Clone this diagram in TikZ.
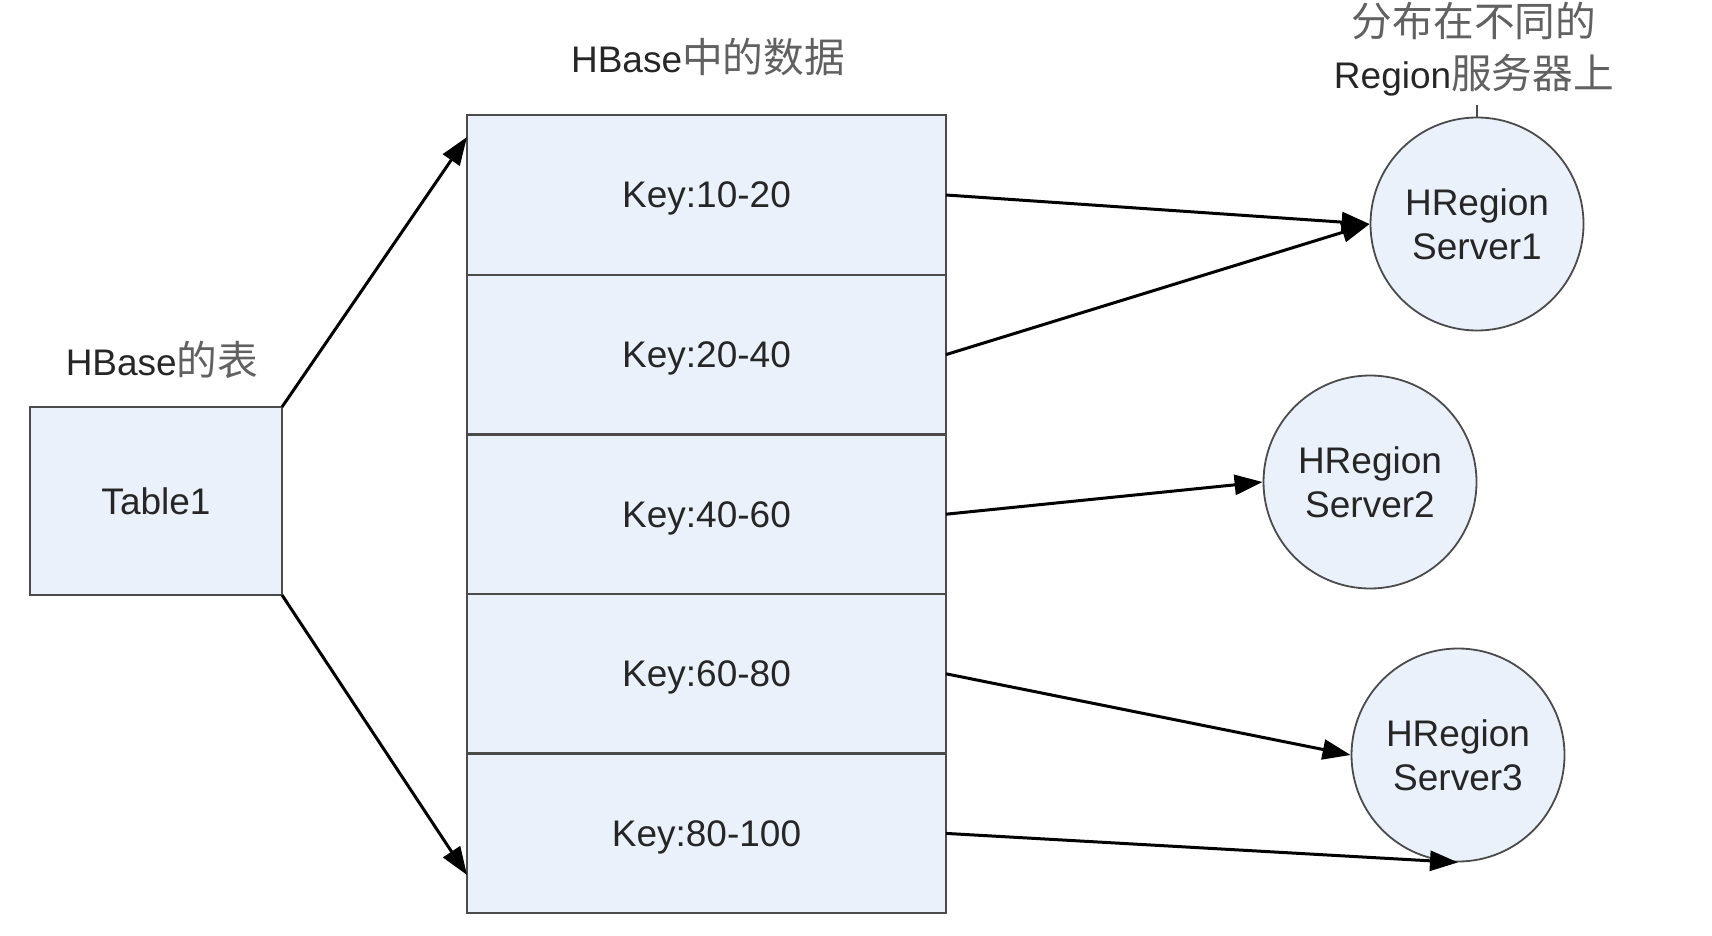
\documentclass[tikz,border=0pt]{standalone}
\usepackage{fontspec}
\setmainfont{Liberation Sans}
\newfontfamily\cjk[Scale=1.1]{Noto Sans CJK SC}
\usetikzlibrary{positioning,arrows.meta}
\definecolor{boxfill}{RGB}{234,241,251}
\definecolor{edgegray}{RGB}{75,75,75}
\newcommand\zh[1]{{\cjk\color{black!62}#1}}

\begin{document}
\begin{tikzpicture}[x=0.5pt,y=-0.5pt,
    font=\fontsize{18.5}{22}\selectfont,text=black!85,
    keybox/.style={draw=edgegray,line width=1.2pt,fill=boxfill,minimum width=239.5pt,
      minimum height=79.8pt,inner sep=0pt,outer sep=0pt,text depth=0pt},
    server/.style={circle,draw=edgegray,line width=0.9pt,fill=boxfill,minimum size=106.5pt,
      inner sep=0pt,align=center},
    arr/.style={-{Triangle[length=14pt,width=10pt]},line width=1.5pt}]
    \useasboundingbox (0,0) rectangle (1712,936);% size of the reference
    % the table
    \node[keybox,minimum width=126pt,minimum height=94pt] (tab) at (156,501) {Table1};
    \node (tabtitle) at (162,360) {HBase\zh{的表}};
    % the key ranges, one row each
    \foreach \lab [count=\i] in {10-20,20-40,40-60,60-80,80-100}{%
      \node[keybox] (k\i) at (706.5,{195+(\i-1)*159.6}) {Key:\lab};}
    \node (datatitle) at (708,57) {HBase\zh{中的数据}};
    % the region servers
    \node[server] (s1) at (1477,224) {HRegion\\Server1};
    \node[server] (s2) at (1370,482) {HRegion\\Server2};
    \node[server] (s3) at (1458,755) {HRegion\\Server3};
    \node[align=center,font=\fontsize{18.5}{25.8}\selectfont] (srvtitle) at (1474,49)
        {\zh{分布在不同的}\\Region\zh{服务器上}};
    \coordinate (tick) at (1477,105);
    \draw[edgegray,line width=0.8pt] (s1.north) -- (tick);
    % connectors
    \coordinate (in1) at (467,137);
    \coordinate (in5) at (467,875);
    \draw[arr] (tab.north east) -- (in1);
    \draw[arr] (tab.south east) -- (in5);
    \draw[arr] (k1.east) -- (s1.west);
    \draw[arr] (k2.east) -- (s1.west);
    \draw[arr] (k3.east) -- (s2.west);
    \draw[arr] (k4.east) -- (s3.west);
    \draw[arr] (k5.east) -- (s3.south);
\end{tikzpicture}
\end{document}
